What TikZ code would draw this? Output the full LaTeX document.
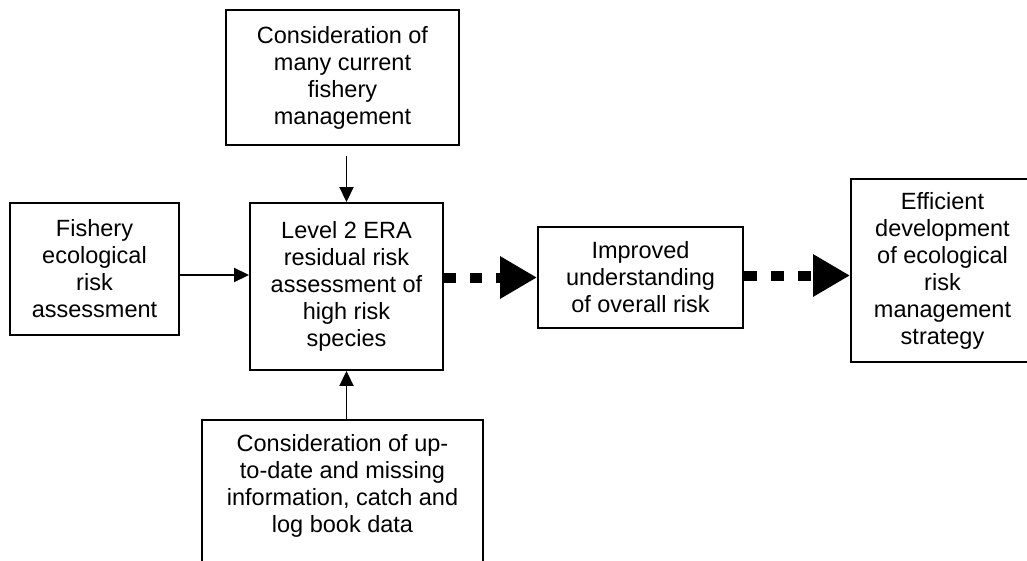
\documentclass[tikz,border=0pt]{standalone}
\usepackage{fontspec}
\setmainfont{Liberation Sans}
\usetikzlibrary{arrows.meta}

\begin{document}
\begin{tikzpicture}[x=1pt,y=-1pt,
    box/.style={draw,line width=1.9pt,align=center,inner sep=0pt,
        font=\fontsize{23.5}{27}\selectfont},
    feed/.style={-{Triangle[width=14pt,length=15pt]},line width=1.9pt},
    flow/.style={-{Triangle[width=40pt,length=37pt]},line width=10pt,
        dash pattern=on 12pt off 14pt}]
    \useasboundingbox (0,0) rectangle (1027,561);
    \clip (0,0) rectangle (1027,561);
    % boxes
    \node[box,minimum width=233pt,minimum height=135pt] (concern) at (342.5,77.5)
        {Consideration of\\many current\\fishery\\management};
    \node[box,minimum width=169pt,minimum height=132pt] (fishery) at (94.5,269)
        {Fishery\\ecological\\risk\\assessment};
    \node[box,minimum width=193pt,minimum height=167pt] (level) at (346.5,286.5)
        {Level 2 ERA\\residual risk\\assessment of\\high risk\\species};
    \node[box,minimum width=205pt,minimum height=101pt] (improved) at (640.5,277.5)
        {Improved\\understanding\\of overall risk};
    \node[box,minimum width=183pt,minimum height=183pt] (efficient) at (942.5,270.5)
        {Efficient\\development\\of ecological\\risk\\management\\strategy};
    % bottom
    \node[box,anchor=north,minimum width=281pt,inner ysep=15pt,text depth=150pt]
        (bottom) at (342.5,419)
        {Consideration of up-\\to-date and missing\\information, catch and\\log book data};
    % connectors
    \draw[feed,shorten <=10pt] (concern.south -| level.north) -- (level.north);
    \draw[feed] ([yshift=-6pt]fishery.east) -- ([yshift=-6pt]fishery.east -| level.west);
    \draw[feed] (bottom.north -| level.south) -- (level.south);
    \draw[flow] (level.east |- improved.west) -- (improved.west);
    \draw[flow,dash pattern=on 13pt off 14pt] ([yshift=2pt]improved.east)
        -- ([yshift=2pt]improved.east -| efficient.west);
\end{tikzpicture}
\end{document}
